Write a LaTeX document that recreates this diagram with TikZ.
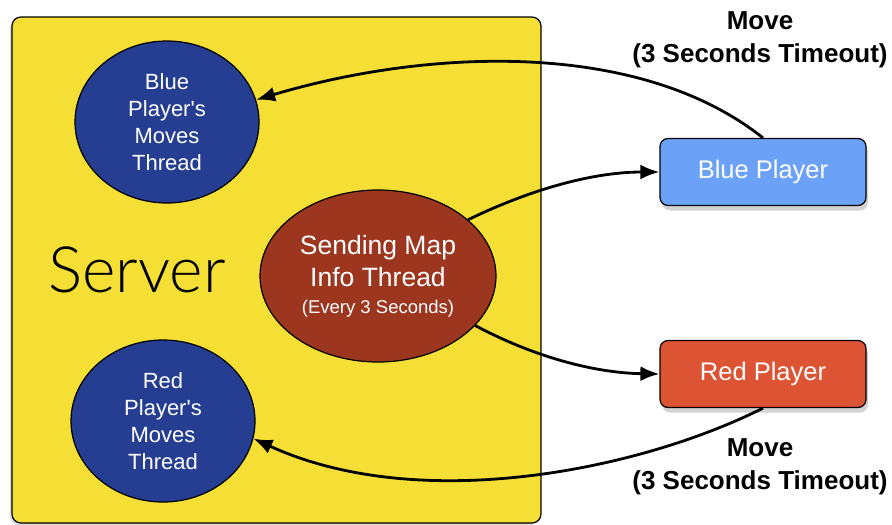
\documentclass[tikz,border=0pt]{standalone}
\usepackage{fontspec}
\setmainfont{Liberation Sans}
\newfontfamily\lightfont{Lato Light}
\usetikzlibrary{arrows.meta,positioning,shapes.geometric,shadows}

\definecolor{srvyellow}{HTML}{F5DF35}
\definecolor{thrblue}{HTML}{253E92}
\definecolor{mapbrown}{HTML}{9C361F}
\definecolor{plblue}{HTML}{6BA2F7}
\definecolor{plred}{HTML}{DC5434}

\begin{document}
\begin{tikzpicture}[x=1pt,y=-1pt,
	thread/.style={ellipse,draw=black,line width=1.2pt,fill=thrblue,text=white,inner sep=0pt,
		minimum width=184pt,minimum height=162pt,align=center,font=\fontsize{22}{27}\selectfont},
	player/.style={rectangle,rounded corners=8pt,draw=black,line width=1.2pt,text=white,
		minimum width=206pt,minimum height=67pt,font=\fontsize{25.5}{28}\selectfont,
		drop shadow={shadow xshift=2pt,shadow yshift=-5pt,opacity=.35}},
	conn/.style={line width=2.8pt,-{Latex[length=19pt,width=15pt]}},
	note/.style={align=center,font=\bfseries\fontsize{26}{33}\selectfont}]
			\useasboundingbox (0,0) rectangle (892,525);
			% server box with the three threads
			\node[rectangle,rounded corners=9pt,draw=black,line width=1.2pt,fill=srvyellow,minimum width=529pt,minimum height=506pt,
				drop shadow={shadow xshift=-2pt,shadow yshift=-2pt,opacity=.3}] (srv) at (276.5,270) {};
			\node[font=\lightfont\fontsize{64}{64}\selectfont] (srvname) at (137,270) {Server};
			\node[thread] (bluethr) at (167,122) {Blue\\Player\textquotesingle s\\Moves\\Thread};
			\node[thread] (redthr) at (163,421) {Red\\Player\textquotesingle s\\Moves\\Thread};
			\node[thread,fill=mapbrown,minimum width=236pt,minimum height=172pt,font=\fontsize{26.5}{32}\selectfont] (mapthr) at (378,276)
				{Sending Map\\Info Thread\\[-5pt]{\fontsize{18.5}{20}\selectfont(Every 3 Seconds)}};
			% the two clients
			\node[player,fill=plblue] (blue) at (763,172) {Blue Player};
			\node[player,fill=plred] (red) at (763,374) {Red Player};
			\node[note] (bluemove) at (760,40) {Move\\(3 Seconds Timeout)};
			\node[note] (redmove) at (760,467) {Move\\(3 Seconds Timeout)};
			% messages
			\draw[conn] (blue.north) .. controls (640,40) and (430,48) .. (bluethr.14);
			\draw[conn] (mapthr.32) .. controls (540,185) and (600,172) .. (blue.west);
			\draw[conn] (mapthr.-27) .. controls (540,360) and (600,373) .. (red.west);
			\draw[conn] (red.south) .. controls (640,470) and (420,515) .. (redthr.-11);
\end{tikzpicture}
\end{document}
